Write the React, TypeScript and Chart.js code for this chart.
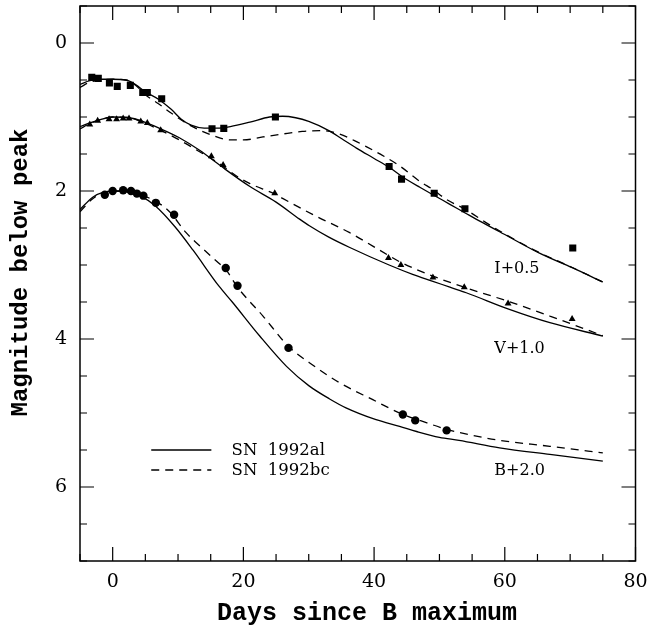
import React, { useEffect, useRef } from 'react';
import { Chart, registerables } from 'chart.js';

Chart.register(...registerables);

// ---- axes ----
const X_MIN = -5;
const X_MAX = 80;
const Y_MIN = -0.5;
const Y_MAX = 7;
const X_TICKS = [0, 20, 40, 60, 80];
const Y_TICKS = [0, 2, 4, 6];
const X_MINOR_STEP = 5;
const X_MAJOR_STEP = 20;
const Y_MINOR_STEP = 0.5;
const Y_MAJOR_STEP = 2;

// ---- observed points ----
const I_OBS_DAYS = [-3.2, -2.2, -0.5, 0.7, 2.7, 4.6, 5.3, 7.5, 15.2, 17.0, 24.9, 42.3, 44.2, 49.2, 53.9, 70.4];
const I_OBS_MAG = [0.465, 0.478, 0.54, 0.586, 0.573, 0.668, 0.668, 0.753, 1.158, 1.154, 1.0, 1.67, 1.84, 2.03, 2.24, 2.77];

const V_OBS_DAYS = [-3.5, -2.3, -0.55, 0.6, 1.6, 2.5, 4.3, 5.3, 7.35, 15.1, 16.9, 24.8, 42.2, 44.1, 49.0, 53.8, 60.5, 70.3];
const V_OBS_MAG = [1.1, 1.05, 1.03, 1.03, 1.02, 1.02, 1.06, 1.08, 1.18, 1.53, 1.65, 2.03, 2.905, 3.0, 3.17, 3.3, 3.52, 3.73];

const B_OBS_DAYS = [-1.2, 0.0, 1.6, 2.8, 3.7, 4.7, 6.6, 9.4, 17.3, 19.1, 26.9, 44.4, 46.3, 51.1];
const B_OBS_MAG = [2.05, 2.0, 1.99, 2.0, 2.035, 2.063, 2.16, 2.32, 3.04, 3.28, 4.12, 5.02, 5.1, 5.235];

// ---- template curves: SN 1992al (solid) ----
const I_AL_DAYS = [-5, -3.5, -2, 0, 2, 3.5, 5, 7, 9, 10.5, 12, 14, 16, 18, 21, 24, 26, 28, 30, 33, 35, 37.3, 40, 42.3, 44.2, 47, 49, 51.6, 54, 55.6, 59.2, 65.3, 70.4, 75];
const I_AL_MAG = [0.56, 0.51, 0.49, 0.49, 0.5, 0.56, 0.66, 0.76, 0.9, 1.03, 1.11, 1.15, 1.15, 1.13, 1.07, 1.0, 0.99, 1.01, 1.06, 1.18, 1.29, 1.42, 1.56, 1.68, 1.8, 1.95, 2.05, 2.18, 2.3, 2.38, 2.55, 2.84, 3.04, 3.23];

const V_AL_DAYS = [-5, -3.5, -2, 0, 2.6, 4.6, 7.1, 10.2, 13.3, 16.5, 21, 25, 28.6, 30.1, 33, 36.2, 42.3, 46, 49, 51.6, 54.1, 60.7, 66.9, 75];
const V_AL_MAG = [1.13, 1.08, 1.04, 1.0, 1.01, 1.06, 1.15, 1.28, 1.45, 1.66, 1.94, 2.15, 2.38, 2.47, 2.62, 2.76, 3.0, 3.13, 3.22, 3.3, 3.375, 3.6, 3.78, 3.96];

const B_AL_DAYS = [-5, -3, -1.5, 0, 2, 4.5, 6.5, 9.5, 12.3, 16.3, 18.3, 22.5, 26.6, 30, 33.2, 35.7, 40.3, 43.9, 46.5, 50, 53, 59.2, 66.9, 75];
const B_AL_MAG = [2.25, 2.08, 2.02, 2.0, 2.01, 2.08, 2.2, 2.48, 2.8, 3.29, 3.5, 3.96, 4.37, 4.63, 4.81, 4.93, 5.09, 5.18, 5.25, 5.33, 5.37, 5.47, 5.56, 5.65];

// ---- template curves: SN 1992bc (dashed) ----
const I_BC_DAYS = [-5, -3.5, -2, 0, 2, 3.5, 5, 7, 9, 12, 15, 18, 20, 23, 26, 29, 32, 34.7, 37, 38.8, 41.5, 43.9, 47, 49, 51, 54, 57, 60, 65, 70, 75];
const I_BC_MAG = [0.6, 0.53, 0.5, 0.49, 0.5, 0.57, 0.7, 0.82, 0.95, 1.12, 1.24, 1.31, 1.31, 1.27, 1.23, 1.195, 1.185, 1.23, 1.32, 1.4, 1.53, 1.66, 1.87, 1.98, 2.11, 2.25, 2.42, 2.58, 2.82, 3.02, 3.23];

const V_BC_DAYS = [-5, -3.5, -2, 0, 2.6, 4.6, 7.1, 10.2, 13.3, 16.5, 19, 21, 24.8, 26, 31.1, 36.2, 42.2, 44, 49, 54.1, 60.5, 66.9, 75];
const V_BC_MAG = [1.16, 1.09, 1.04, 1.0, 1.01, 1.07, 1.17, 1.31, 1.47, 1.64, 1.8, 1.9, 2.04, 2.1, 2.34, 2.56, 2.87, 2.96, 3.15, 3.31, 3.49, 3.69, 3.955];

const B_BC_DAYS = [-5, -3, -1.5, 0, 2, 4.5, 6.6, 8.7, 11.2, 13.3, 16.3, 17.3, 19.1, 23, 26.9, 30.1, 34.7, 39.8, 44.4, 47, 51.1, 55, 59.2, 66.9, 75];
const B_BC_MAG = [2.28, 2.1, 2.03, 2.0, 2.0, 2.06, 2.14, 2.28, 2.56, 2.74, 2.98, 3.06, 3.3, 3.69, 4.1, 4.32, 4.59, 4.82, 5.02, 5.1, 5.22, 5.3, 5.37, 5.45, 5.54];

// ---- text ----
const BAND_LABELS = ['I+0.5', 'V+1.0', 'B+2.0'];
const BAND_LABEL_DAY = [58.4, 58.4, 58.4];
const BAND_LABEL_MAG = [3.05, 4.13, 5.78];
const LEGEND_LABELS = ['SN  1992al', 'SN  1992bc'];
const X_TITLE = 'Days since B maximum';
const Y_TITLE = 'Magnitude below peak';

const DASH = [8, 6];

const pts = (xs: number[], ys: number[]) => xs.map((x, i) => ({ x, y: ys[i] }));

const curve = (label: string, xs: number[], ys: number[], dashed: boolean) => ({
  label,
  data: pts(xs, ys),
  showLine: true,
  pointRadius: 0,
  borderColor: '#000',
  borderWidth: 1.3,
  borderDash: dashed ? DASH : [],
  cubicInterpolationMode: 'monotone' as const,
  fill: false,
});

const obs = (label: string, xs: number[], ys: number[], style: string, r: number) => ({
  label,
  data: pts(xs, ys),
  showLine: false,
  pointStyle: style,
  pointRadius: r,
  pointBackgroundColor: '#000',
  pointBorderColor: '#000',
  pointBorderWidth: 0,
});

const noPad = (s: any) => {
  s.paddingTop = 0;
  s.paddingBottom = 0;
  s.paddingLeft = 0;
  s.paddingRight = 0;
};

const decorPlugin = {
  id: 'decor',
  afterDraw(chart: any) {
    const { ctx, chartArea: a, scales } = chart;
    const xs = scales.x;
    const ys = scales.y;
    ctx.save();
    ctx.strokeStyle = '#000';
    ctx.fillStyle = '#000';
    // frame
    ctx.lineWidth = 1.5;
    ctx.strokeRect(a.left, a.top, a.right - a.left, a.bottom - a.top);
    // ticks, inward on all four sides
    ctx.lineWidth = 1.2;
    ctx.beginPath();
    const nx = Math.round((X_MAX - X_MIN) / X_MINOR_STEP);
    for (let i = 0; i <= nx; i++) {
      const v = X_MIN + i * X_MINOR_STEP;
      const p = xs.getPixelForValue(v);
      const len = Math.abs(v % X_MAJOR_STEP) < 1e-9 ? 14 : 7;
      ctx.moveTo(p, a.bottom);
      ctx.lineTo(p, a.bottom - len);
      ctx.moveTo(p, a.top);
      ctx.lineTo(p, a.top + len);
    }
    const ny = Math.round((Y_MAX - Y_MIN) / Y_MINOR_STEP);
    for (let i = 0; i <= ny; i++) {
      const v = Y_MIN + i * Y_MINOR_STEP;
      const p = ys.getPixelForValue(v);
      const len = Math.abs(v % Y_MAJOR_STEP) < 1e-9 ? 14 : 7;
      ctx.moveTo(a.left, p);
      ctx.lineTo(a.left + len, p);
      ctx.moveTo(a.right, p);
      ctx.lineTo(a.right - len, p);
    }
    ctx.stroke();

    // band labels
    ctx.font = '16px "DejaVu Serif"';
    ctx.textAlign = 'left';
    ctx.textBaseline = 'middle';
    BAND_LABELS.forEach((t, i) => {
      ctx.fillText(t, xs.getPixelForValue(BAND_LABEL_DAY[i]), ys.getPixelForValue(BAND_LABEL_MAG[i]));
    });

    // legend (styles taken from the curve datasets)
    const legendRows = [3, 4];
    const lx0 = xs.getPixelForValue(5.9);
    const lx1 = xs.getPixelForValue(15.1);
    const tx = xs.getPixelForValue(18.2);
    const ly = [ys.getPixelForValue(5.5), ys.getPixelForValue(5.77)];
    legendRows.forEach((di, i) => {
      const ds = chart.data.datasets[di];
      ctx.save();
      ctx.lineWidth = ds.borderWidth;
      ctx.setLineDash(ds.borderDash || []);
      ctx.beginPath();
      ctx.moveTo(lx0, ly[i]);
      ctx.lineTo(lx1, ly[i]);
      ctx.stroke();
      ctx.restore();
      ctx.font = '16.5px "DejaVu Serif"';
      ctx.textAlign = 'left';
      ctx.textBaseline = 'middle';
      ctx.fillText(LEGEND_LABELS[i], tx, ly[i] + 1);
    });

    // axis titles
    ctx.font = 'bold 25px "Liberation Mono"';
    ctx.textAlign = 'center';
    ctx.textBaseline = 'alphabetic';
    ctx.fillText(X_TITLE, 367, 620);
    ctx.save();
    ctx.font = 'bold 24px "Liberation Mono"';
    ctx.translate(27, 272.5);
    ctx.rotate(-Math.PI / 2);
    ctx.fillText(Y_TITLE, 0, 0);
    ctx.restore();

    ctx.restore();
  },
};

export default function App() {
  const ref = useRef<HTMLCanvasElement>(null);
  useEffect(() => {
    const chart = new Chart(ref.current as HTMLCanvasElement, {
      type: 'scatter',
      data: {
        datasets: [
          obs('I observed', I_OBS_DAYS, I_OBS_MAG, 'rect', 5),
          obs('V observed', V_OBS_DAYS, V_OBS_MAG, 'triangle', 4),
          obs('B observed', B_OBS_DAYS, B_OBS_MAG, 'circle', 4.2),
          curve('SN 1992al I', I_AL_DAYS, I_AL_MAG, false),
          curve('SN 1992bc I', I_BC_DAYS, I_BC_MAG, true),
          curve('SN 1992al V', V_AL_DAYS, V_AL_MAG, false),
          curve('SN 1992bc V', V_BC_DAYS, V_BC_MAG, true),
          curve('SN 1992al B', B_AL_DAYS, B_AL_MAG, false),
          curve('SN 1992bc B', B_BC_DAYS, B_BC_MAG, true),
        ] as any,
      },
      options: {
        animation: false,
        responsive: true,
        maintainAspectRatio: false,
        layout: { padding: { top: 6, right: 12.5, left: 0, bottom: 0 } },
        plugins: {
          legend: { display: false },
          tooltip: { enabled: false },
        },
        scales: {
          x: {
            type: 'linear',
            min: X_MIN,
            max: X_MAX,
            grid: { display: false, drawTicks: false },
            border: { display: false },
            afterBuildTicks: (s: any) => {
              s.ticks = X_TICKS.map((v) => ({ value: v }));
            },
            afterFit: (s: any) => {
              s.height = 66;
              noPad(s);
            },
            ticks: {
              autoSkip: false,
              maxRotation: 0,
              padding: 10,
              color: '#000',
              font: { family: '"DejaVu Serif"', size: 19 },
              callback: (v: any) => String(v),
            },
          },
          y: {
            type: 'linear',
            reverse: true,
            min: Y_MIN,
            max: Y_MAX,
            grid: { display: false, drawTicks: false },
            border: { display: false },
            afterBuildTicks: (s: any) => {
              s.ticks = Y_TICKS.map((v) => ({ value: v }));
            },
            afterFit: (s: any) => {
              s.width = 80;
              noPad(s);
            },
            ticks: {
              autoSkip: false,
              padding: 13,
              color: '#000',
              font: { family: '"DejaVu Serif"', size: 19 },
              callback: (v: any) => String(v),
            },
          },
        },
      } as any,
      plugins: [decorPlugin],
    });
    return () => chart.destroy();
  }, []);
  return (
    <div style={{ position: 'absolute', left: 0, top: 0, width: 648, height: 627, background: '#fff' }}>
      <canvas ref={ref} />
    </div>
  );
}
